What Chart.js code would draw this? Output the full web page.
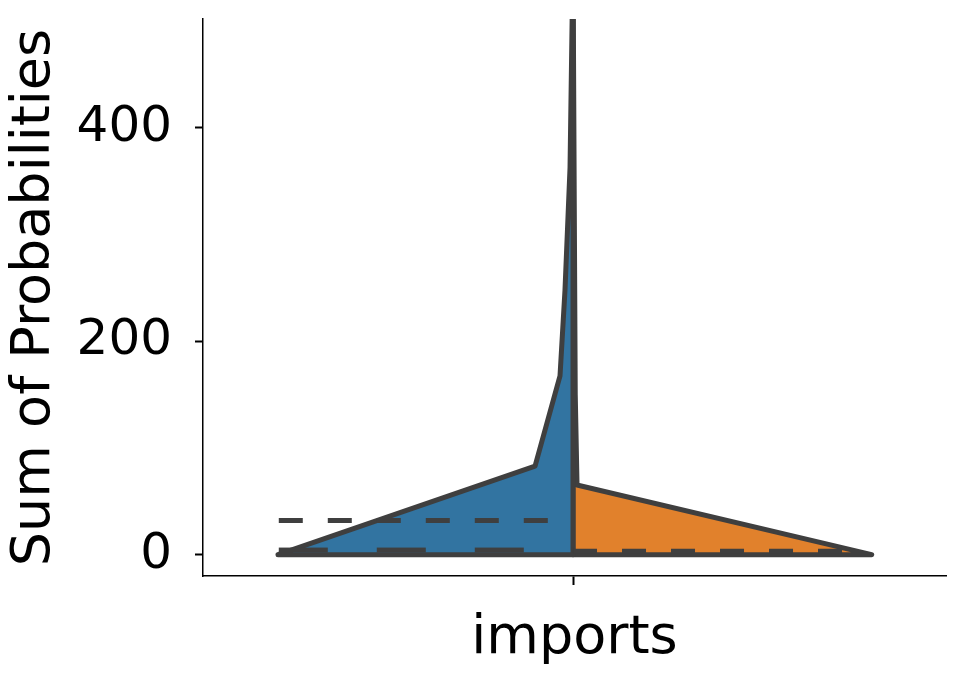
<!DOCTYPE html>
<html lang="en">
<head>
  <meta charset="utf-8" />
  <title>imports - Sum of Probabilities</title>
  <script src="https://cdn.jsdelivr.net/npm/chart.js@4.4.0/dist/chart.umd.min.js"></script>
  <style>
    body { margin: 0; background: #fff; }
  </style>
</head>
<body>
  <canvas id="chart" width="969" height="684"></canvas>
  <script>
    // category and axis text
    const categories = ['imports'];
    const yTitle = 'Sum of Probabilities';
    const yTicks = [0, 200, 400];

    // left half (blue) outline
    const leftX = [-0.397, -0.0511, -0.0175, -0.0108, -0.004, 0, 0, -0.397];
    const leftY = [0, 83, 167.5, 248, 363, 560, 0, 0];

    // right half (orange) outline
    const rightX = [0, 0, 0.003, 0.0054, 0.402, 0];
    const rightY = [0, 560, 150, 65.3, 0, 0];

    // quartile / median lines: [xStart, xEnd], value
    const leftQ3X = [-0.396, -0.0323];
    const leftQ3 = 32;
    const leftMedX = [-0.396, 0];
    const leftMed = 4.3;
    const rightQX = [0, 0.38];
    const rightQ = 3.2;

    const lineColor = '#3f3f3f';
    const font = 'DejaVu Sans';

    function pts(xs, ys) { return xs.map((x, i) => ({ x: x, y: ys[i] })); }
    function hline(xs, y) { return xs.map(x => ({ x: x, y: y })); }

    function shape(data, color) {
      return {
        data: data, showLine: true, fill: 'shape', backgroundColor: color,
        borderColor: lineColor, borderWidth: 5, borderJoinStyle: 'round',
        borderCapStyle: 'round', pointRadius: 0, tension: 0, clip: 0, order: 2
      };
    }

    function dashed(data, dash) {
      return {
        data: data, showLine: true, fill: false, borderColor: lineColor,
        borderWidth: 5, borderDash: dash, borderCapStyle: 'butt',
        pointRadius: 0, tension: 0, clip: 0, order: 1
      };
    }

    new Chart(document.getElementById('chart'), {
      type: 'scatter',
      data: {
        datasets: [
          shape(pts(leftX, leftY), '#3274a1'),
          shape(pts(rightX, rightY), '#e1812c'),
          dashed(hline(leftQ3X, leftQ3), [24, 25]),
          dashed(hline(leftMedX, leftMed), [49, 49]),
          dashed(hline(rightQX, rightQ), [24, 25])
        ]
      },
      options: {
        responsive: false,
        animation: false,
        layout: { padding: { top: 19, right: 23, left: 0, bottom: 0 } },
        plugins: { legend: { display: false }, tooltip: { enabled: false } },
        scales: {
          x: {
            type: 'linear', min: -0.498, max: 0.502,
            afterBuildTicks: s => { s.ticks = [{ value: 0 }]; },
            afterFit: s => { s.height = 108; s.paddingLeft = 0; s.paddingRight = 0; },
            ticks: { callback: () => '', padding: 0 },
            grid: { drawOnChartArea: false, drawTicks: true, tickLength: 9, tickWidth: 2, tickColor: '#000' },
            border: { display: true, color: '#000', width: 1.5 },
            title: {
              display: true, text: categories[0], color: '#000',
              font: { family: font, size: 54 }, padding: { top: 0, bottom: 13 }
            }
          },
          y: {
            type: 'linear', min: -20, max: 502,
            afterBuildTicks: s => { s.ticks = yTicks.map(v => ({ value: v })); },
            afterFit: s => { s.width = 203; s.paddingTop = 0; s.paddingBottom = 0; },
            ticks: { color: '#000', font: { family: font, size: 50 }, padding: 23 },
            grid: { drawOnChartArea: false, drawTicks: true, tickLength: 8, tickWidth: 2, tickColor: '#000' },
            border: { display: true, color: '#000', width: 1.5 },
            title: {
              display: true, text: yTitle, color: '#000',
              font: { family: font, size: 54 }, padding: { top: 3, bottom: 0 }
            }
          }
        }
      }
    });
  </script>
</body>
</html>
